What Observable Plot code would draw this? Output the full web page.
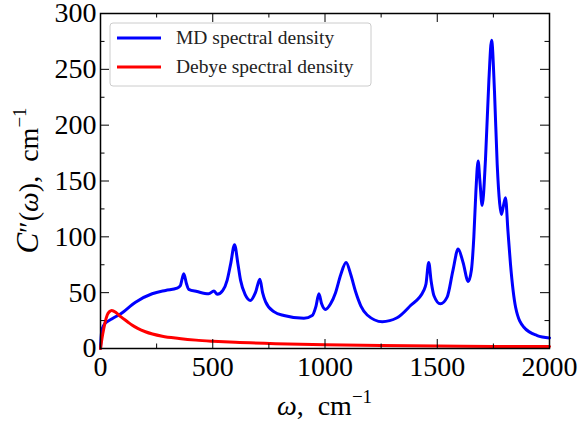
<!DOCTYPE html>
<html>
<head>
<meta charset="utf-8">
<script src="https://cdn.jsdelivr.net/npm/d3@7"></script>
<script src="https://cdn.jsdelivr.net/npm/@observablehq/plot@0.6"></script>
<style>
  html, body { margin: 0; padding: 0; background: white; }
</style>
</head>
<body>
<div id="chart"></div>
<script>
// MD spectral density (omega, cm^-1 ; C''(omega), cm^-1)
const mdOmega = [0, 5, 15, 30, 50, 89, 156, 230, 290, 341, 355, 371, 383, 393, 430, 482, 505, 520, 545, 564, 580, 597, 612, 624, 645, 668, 690, 710, 722, 735, 772, 817, 906, 943, 960, 973, 985, 1002, 1025, 1047, 1070, 1094, 1115, 1136, 1160, 1188, 1255, 1321, 1381, 1440, 1450, 1462, 1473, 1485, 1514, 1544, 1570, 1593, 1615, 1638, 1652, 1663, 1672, 1682, 1690, 1700, 1715, 1730, 1742, 1755, 1767, 1778, 1786, 1795, 1804, 1815, 1826, 1849, 1886, 1945, 2000];
const mdValue = [0, 15, 21, 24, 26.5, 31, 41.5, 49, 52, 54, 56, 67, 58, 53, 51, 49, 51.5, 48.5, 52, 61, 76, 93, 76, 61, 48, 43, 50, 62, 50, 42, 33, 29.5, 27, 29.5, 38, 49, 40, 35, 40, 50, 66, 77, 66, 51, 38, 30, 24, 27.5, 38.5, 52, 58, 77, 60, 47.5, 40, 46, 70, 89, 77, 60, 70, 100, 140, 168, 150, 128, 170, 240, 276, 230, 165, 130, 120, 128, 135, 105, 76, 37, 19, 11.6, 9.5];

// Debye spectral density
const debyeOmega = [0, 5, 10, 20, 30, 40, 50, 70, 90, 120, 140, 200, 275, 350, 425, 500, 600, 780, 1000, 1250, 1500, 1750, 2000];
const debyeValue = [0, 7, 13, 23, 30, 33, 34, 32, 28.5, 24, 21, 15, 11, 9, 7.5, 6.5, 5.5, 4.3, 3.4, 2.7, 2.3, 1.9, 1.7];

const xMajor = [0, 500, 1000, 1500, 2000];
const xMinor = [250, 750, 1250, 1750];
const yMajor = [0, 50, 100, 150, 200, 250, 300];
const yMinor = [25, 75, 125, 175, 225, 275];

const seriesNames = ["MD spectral density", "Debye spectral density"];
const seriesColors = ["#0000ff", "#ff0000"];

const md = mdOmega.map((w, i) => ({w, c: mdValue[i]}));
const debye = debyeOmega.map((w, i) => ({w, c: debyeValue[i]}));

const W = 579, H = 428;
const mL = 100, mR = 30, mT = 13, mB = 80;
const pW = W - mL - mR, pH = H - mT - mB;
const majorLen = 9, minorLen = 4.5;
const font = "'Liberation Serif', 'DejaVu Serif', serif";

const chart = Plot.plot({
  width: W, height: H,
  marginLeft: mL, marginRight: mR, marginTop: mT, marginBottom: mB,
  style: {fontFamily: font, fontSize: "28px", background: "white", color: "black"},
  x: {domain: [0, 2000]},
  y: {domain: [0, 300]},
  marks: [
    Plot.line(md, {x: "w", y: "c", stroke: seriesColors[0], strokeWidth: 3, curve: "monotone-x"}),
    Plot.line(debye, {x: "w", y: "c", stroke: seriesColors[1], strokeWidth: 3, curve: "monotone-x"}),
    // inward ticks, bottom
    Plot.tickX(xMajor, {x: d => d, stroke: "black", strokeWidth: 1, insetTop: pH - majorLen}),
    Plot.tickX(xMinor, {x: d => d, stroke: "black", strokeWidth: 1, insetTop: pH - minorLen}),
    // top
    Plot.tickX(xMajor, {x: d => d, stroke: "black", strokeWidth: 1, insetBottom: pH - majorLen}),
    Plot.tickX(xMinor, {x: d => d, stroke: "black", strokeWidth: 1, insetBottom: pH - minorLen}),
    // left
    Plot.tickY(yMajor, {y: d => d, stroke: "black", strokeWidth: 1, insetRight: pW - majorLen}),
    Plot.tickY(yMinor, {y: d => d, stroke: "black", strokeWidth: 1, insetRight: pW - minorLen}),
    // right
    Plot.tickY(yMajor, {y: d => d, stroke: "black", strokeWidth: 1, insetLeft: pW - majorLen}),
    Plot.tickY(yMinor, {y: d => d, stroke: "black", strokeWidth: 1, insetLeft: pW - minorLen}),
    Plot.frame({stroke: "black", strokeWidth: 1.5}),
    Plot.axisX({ticks: xMajor, tickSize: 0, tickPadding: 8, tickFormat: d => String(d), fontSize: 28, label: null}),
    Plot.axisY({ticks: yMajor, tickSize: 0, tickPadding: 4, tickFormat: d => String(d), fontSize: 28, label: null})
  ]
});

document.getElementById("chart").appendChild(chart);

const svg = d3.select(chart);

function styledText(sel, size) {
  return sel.style("font-family", font).style("font-size", size + "px").style("fill", "black");
}

// Axis labels
const xl = styledText(svg.append("text"), 28)
  .attr("x", mL + pW / 2).attr("y", 415)
  .style("text-anchor", "middle");
xl.append("tspan").style("font-style", "italic").text("ω");
xl.append("tspan").text(",  cm");
xl.append("tspan").style("font-size", "19px").attr("dy", -12).text("−1");

const yl = styledText(svg.append("text"), 28)
  .attr("transform", `translate(38, ${mT + pH / 2}) rotate(-90)`)
  .style("text-anchor", "middle");
yl.append("tspan").style("font-style", "italic").style("font-size", "31px").text("C");
yl.append("tspan").text("″(");
yl.append("tspan").style("font-style", "italic").text("ω");
yl.append("tspan").text("),  cm");
yl.append("tspan").style("font-size", "19px").attr("dy", -12).text("−1");

// Legend
const lg = svg.append("g");
lg.append("rect")
  .attr("x", 110).attr("y", 23).attr("width", 261).attr("height", 63)
  .attr("rx", 3).attr("fill", "white").attr("fill-opacity", 0.8)
  .attr("stroke", "#cccccc").attr("stroke-width", 1);
seriesNames.forEach((name, i) => {
  const yy = 38 + i * 29;
  lg.append("line").attr("x1", 117).attr("x2", 161).attr("y1", yy).attr("y2", yy)
    .attr("stroke", seriesColors[i]).attr("stroke-width", 3);
  styledText(lg.append("text"), 19.5)
    .attr("x", 176).attr("y", yy + 6)
    .style("text-anchor", "start").style("fill", "#222")
    .text(name);
});
</script>
</body>
</html>
